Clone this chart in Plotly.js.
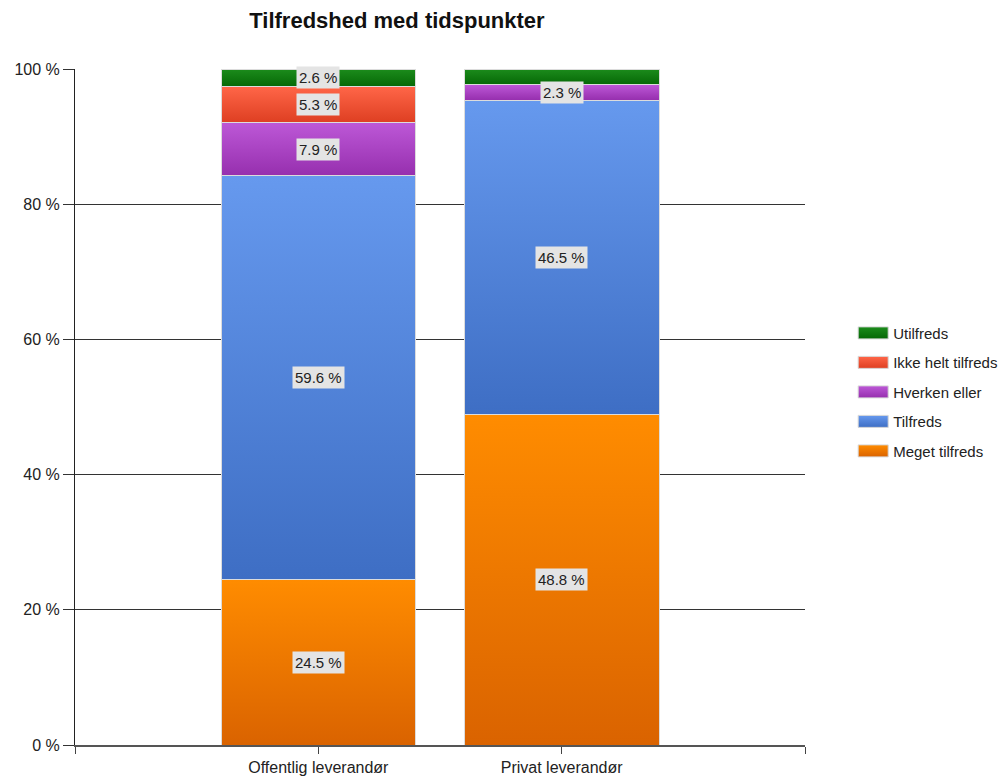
<!DOCTYPE html>
<html>
<head>
<meta charset="utf-8">
<script src="https://cdn.plot.ly/plotly-3.0.1.min.js"></script>
<style>
  html, body { margin: 0; padding: 0; background: #fff; }
  #chart { width: 1005px; height: 776px; }
</style>
</head>
<body>
<div id="chart"></div>
<script>
// Satisfaction with delivery time, public vs. private supplier (percent of answers)
const categories = ['Offentlig leverandør', 'Privat leverandør'];

const megetTilfreds    = [24.5, 48.8];
const tilfreds         = [59.6, 46.5];
const hverkenEller     = [7.9, 2.3];
const ikkeHeltTilfreds = [5.3, null];
const utilfreds        = [2.6, 2.3];

const yTickVals = [0, 20, 40, 60, 80, 100];

// Stack order, bottom to top
const series = [
  { name: 'Meget tilfreds',     values: megetTilfreds,    top: '#FF8C00', bottom: '#DA6300', swatch: '#F08000' },
  { name: 'Tilfreds',           values: tilfreds,         top: '#6699EE', bottom: '#3E6EC4', swatch: '#5582DC' },
  { name: 'Hverken eller',      values: hverkenEller,     top: '#BD58D7', bottom: '#962FAE', swatch: '#A843C2' },
  { name: 'Ikke helt tilfreds', values: ikkeHeltTilfreds, top: '#FF6648', bottom: '#DE3F22', swatch: '#F25536' },
  { name: 'Utilfreds',          values: utilfreds,        top: '#1C8C1C', bottom: '#066806', swatch: '#0D7A0D' }
];

const FONT = '"Liberation Sans", Arial, sans-serif';
const PLOT_TOP = 69, PLOT_BOTTOM = 745;
const plotHeight = PLOT_BOTTOM - PLOT_TOP;

// Legend lists the top of the stack first
const traces = series.map((s, i) => ({
  type: 'bar',
  name: s.name,
  x: categories,
  y: s.values,
  legendgroup: s.name,
  legendrank: (series.length - i) * 100,
  width: 0.8,
  marker: { color: s.swatch, line: { color: '#DCDCDC', width: 1 } },
  hoverinfo: 'skip'
}));

// Value labels centred in each segment (stack normalised to 100 %);
// a label that would collide with the one below it in the same bar is left out.
const annotations = [];
categories.forEach((cat, ci) => {
  const total = series.reduce((a, s) => a + (s.values[ci] || 0), 0);
  let base = 0;
  let lastPx = null;
  series.forEach(s => {
    const v = s.values[ci];
    if (v === null || v === undefined) return;
    const share = v / total * 100;
    const centre = base + share / 2;
    base += share;
    const px = centre / 100 * plotHeight;
    if (lastPx !== null && px - lastPx < 23) return;
    lastPx = px;
    annotations.push({
      x: cat, y: centre, xref: 'x', yref: 'y',
      text: v.toFixed(1) + ' %',
      showarrow: false,
      bgcolor: '#E4E4E4',
      borderpad: 2,
      font: { family: FONT, size: 15, color: '#222' }
    });
  });
});

const layout = {
  width: 1005,
  height: 776,
  paper_bgcolor: '#fff',
  plot_bgcolor: '#fff',
  margin: { l: 75, r: 200, t: PLOT_TOP, b: 776 - PLOT_BOTTOM, autoexpand: false },
  barmode: 'stack',
  barnorm: 'percent',
  font: { family: FONT, color: '#222' },
  title: {
    text: '<b>Tilfredshed med tidspunkter</b>',
    font: { family: FONT, size: 22, color: '#111' },
    xref: 'container', yref: 'container',
    x: 0.395, xanchor: 'center',
    y: 0.974, yanchor: 'middle'
  },
  xaxis: {
    type: 'category',
    range: [-1, 2],
    tickmode: 'array',
    tickvals: [-1, 0, 1, 2],
    ticktext: ['', categories[0], categories[1], ''],
    ticks: 'outside', ticklen: 7, tickcolor: '#444', tickwidth: 1,
    showline: true, linecolor: '#555', linewidth: 2,
    showgrid: false, zeroline: false,
    tickfont: { family: FONT, size: 16, color: '#222' },
    fixedrange: true
  },
  yaxis: {
    range: [0, 100],
    tickmode: 'array',
    tickvals: yTickVals,
    ticktext: yTickVals.map(v => v + ' %'),
    ticks: 'outside', ticklen: 11, tickcolor: '#333', tickwidth: 1,
    showline: true, linecolor: '#222', linewidth: 1,
    showgrid: true, gridcolor: '#333', gridwidth: 1,
    zeroline: false,
    tickfont: { family: FONT, size: 16, color: '#222' },
    fixedrange: true
  },
  legend: {
    x: 1.066, xanchor: 'left',
    y: 0.522, yanchor: 'middle',
    traceorder: 'grouped',
    tracegroupgap: 7,
    itemwidth: 30,
    font: { family: FONT, size: 15, color: '#222' },
    bgcolor: 'rgba(0,0,0,0)'
  },
  annotations: annotations,
  showlegend: true
};

Plotly.newPlot('chart', traces, layout, { displayModeBar: false, staticPlot: true }).then(gd => {
  // Vertical light-to-dark gradients for the bar segments and legend swatches
  const svg = gd.querySelector('svg.main-svg');
  const ns = 'http://www.w3.org/2000/svg';
  let defs = svg.querySelector('defs');
  if (!defs) { defs = document.createElementNS(ns, 'defs'); svg.insertBefore(defs, svg.firstChild); }
  series.forEach((s, i) => {
    const g = document.createElementNS(ns, 'linearGradient');
    g.setAttribute('id', 'segfill' + i);
    g.setAttribute('x1', '0'); g.setAttribute('y1', '0');
    g.setAttribute('x2', '0'); g.setAttribute('y2', '1');
    [[0, s.top], [1, s.bottom]].forEach(([o, c]) => {
      const st = document.createElementNS(ns, 'stop');
      st.setAttribute('offset', o);
      st.setAttribute('stop-color', c);
      g.appendChild(st);
    });
    defs.appendChild(g);
  });
  gd.querySelectorAll('.barlayer .trace').forEach((tg, i) => {
    tg.querySelectorAll('.point path').forEach(p => { p.style.fill = 'url(#segfill' + i + ')'; });
  });
  gd.querySelectorAll('.legend .traces').forEach(item => {
    const name = item.querySelector('.legendtext').textContent;
    const idx = series.findIndex(s => s.name === name);
    item.querySelectorAll('.legendpoints path').forEach(p => {
      p.setAttribute('d', 'M-15,-6h30v12h-30z');
      p.style.fill = 'url(#segfill' + idx + ')';
      p.style.stroke = '#D8D8D8';
      p.style.strokeWidth = '1px';
    });
  });
});
</script>
</body>
</html>
